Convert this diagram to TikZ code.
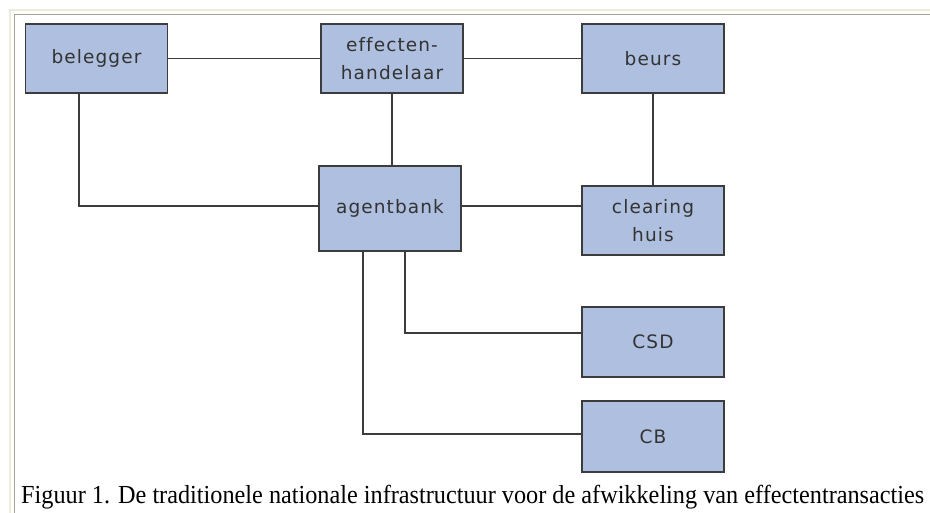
\documentclass[tikz,border=0pt]{standalone}
\usepackage{fontspec}
\usepackage{graphicx}
\usepackage{xcolor}
\usetikzlibrary{positioning}
\setmainfont{Liberation Serif}
\newfontfamily\boxfont[LetterSpace=6,Ligatures=NoCommon]{DejaVu Sans}
\definecolor{boxblue}{HTML}{AEBFDF}
\definecolor{boxline}{HTML}{3C3C3C}
\definecolor{frameout}{HTML}{EFEBDC}
\definecolor{framein}{HTML}{A7A394}

\begin{document}
\begin{tikzpicture}[x=1pt,y=-1pt,-,main node/.style={rectangle, draw=boxline, line width=1.8pt, fill=boxblue, minimum width=142pt, minimum height=69pt, inner sep=0pt, align=center, text=black!80, font=\boxfont\fontsize{18.5}{28}\selectfont},link/.style={draw=boxline, line width=1.4pt}]
			\useasboundingbox (0,0) rectangle (930,513);
			% frame
			\draw[frameout, line width=1.5pt] (10,513) -- (10,10) -- (930,10);
			\draw[framein, line width=1.5pt] (14.5,513) -- (14.5,14.5) -- (930,14.5);
			
			% Nodes
			\node[main node] (1) at (96.5,58.5) {belegger};
			\node[main node] (2) at (392,58.5) {effecten-\\handelaar};
			\node[main node] (4) at (653,58.5) {beurs};
			\node[main node, minimum height=85pt] (3) at (390,208.5) {agentbank};
			\node[main node] (5) at (653,220.5) {clearing\\huis};
			\node[main node, minimum height=70pt] (6) at (653,342) {CSD};
			\node[main node, minimum height=71pt] (7) at (653,436.5) {CB};
			
			% links
			\path[link]
			(1) edge (2)
			(2) edge (4)
			(4) edge (5)
			(2.south) edge (2.south |- 3.north);
			
			\draw[link] ([xshift=-17.5pt]1.south) |- ([yshift=2.5pt]3.west);
			\draw[link] ([yshift=2.5pt]3.east) -- ([yshift=2.5pt]3.east -| 5.west);
			\draw[link] ([xshift=15pt]3.south) |- ([yshift=9pt]6.west);
			\draw[link] ([xshift=-27pt]3.south) |- ([yshift=2.5pt]7.west);
			
			% caption
			\node[anchor=base west, inner sep=0pt, font=\fontsize{26}{30}\selectfont] (cap) at (21,503) {\resizebox{903pt}{\height}{Figuur 1. De traditionele nationale infrastructuur voor de afwikkeling van effectentransacties}};
			
		\end{tikzpicture}
\end{document}
